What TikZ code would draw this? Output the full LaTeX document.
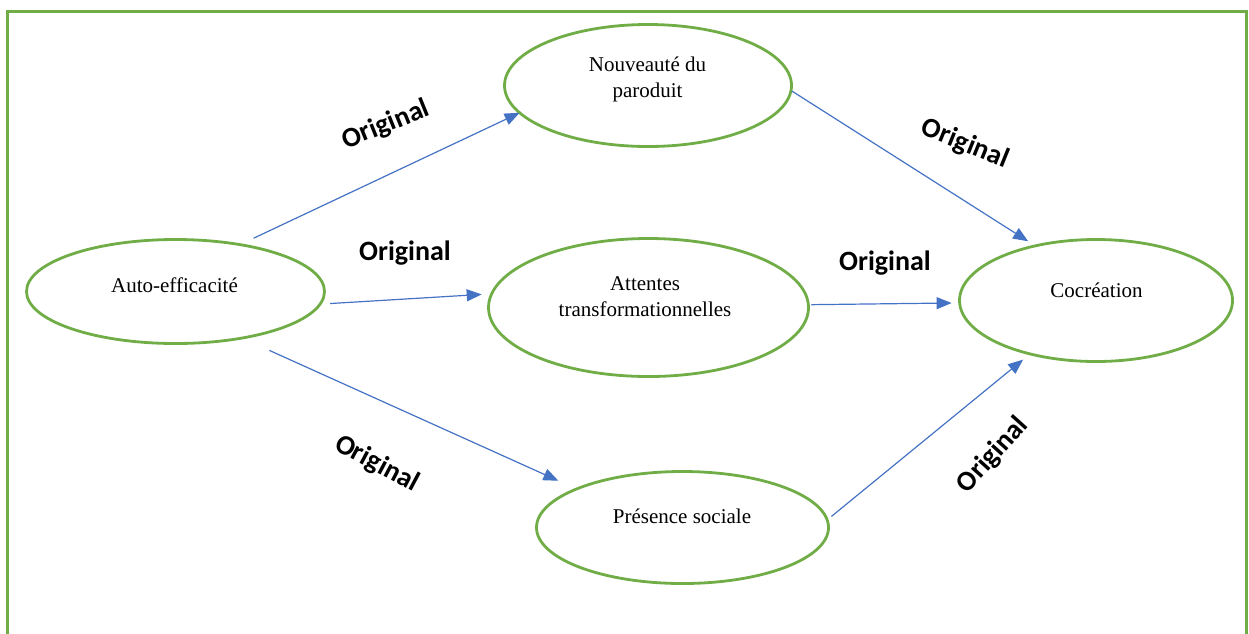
\documentclass[tikz,border=0pt]{standalone}
\usepackage{fontspec}
\setmainfont{Liberation Serif}
\newfontfamily\labelfont{Carlito}
\usetikzlibrary{arrows.meta,shapes.geometric}
\definecolor{framegreen}{RGB}{112,173,71}
\definecolor{linkblue}{RGB}{68,114,196}
\begin{document}
\begin{tikzpicture}[x=1pt,y=-1pt,
  bubble/.style={ellipse,draw=framegreen,line width=2.8pt,inner sep=0pt,outer sep=0pt},
  caption/.style={font=\fontsize{21}{26}\selectfont,align=center,inner sep=0pt},
  link/.style={draw=linkblue,line width=1.2pt,-{Triangle[length=15pt,width=12pt]}},
  weight/.style={font=\labelfont\bfseries\fontsize{28}{30}\selectfont,inner sep=0pt}]
\useasboundingbox (0,0) rectangle (1249,633);
% open frame (its lower edge lies below the page)
\draw[framegreen,line width=2.7pt] (7.3,650) -- (7.3,11.3) -- (1246.5,11.3) -- (1246.5,650);

% concepts
\node[bubble,minimum width=298pt,minimum height=104pt] (auto) at (175.5,291.5) {};
\node[bubble,minimum width=287pt,minimum height=122pt] (nouv) at (648,85.5) {};
\node[bubble,minimum width=320pt,minimum height=138pt] (att) at (648.5,307.5) {};
\node[bubble,minimum width=273pt,minimum height=122pt] (coc) at (1096,300.5) {};
\node[bubble,minimum width=292pt,minimum height=112pt] (pres) at (682.5,527.5) {};

\node[caption] (autotext) at (174.5,285) {Auto-efficacité};
\node[caption] (nouvtext) at (647.5,79) {Nouveauté du\\paroduit};
\node[caption] (atttext) at (645,297) {Attentes\\transformationnelles};
\node[caption] (coctext) at (1096.5,290.5) {Cocréation};
\node[caption] (prestext) at (682,516.5) {Présence sociale};

% relations
\draw[link,shorten <=15pt] (auto.36.6) -- (nouv.192.9);
\draw[link,shorten <=10pt,shorten >=10pt] (auto.-5.4) -- (att.175.1);
\draw[link,shorten <=30pt,shorten >=20pt] (auto.-35.2) -- (pres.160.1);
\draw[link,shorten <=1pt,shorten >=8.5pt] (nouv.-2.9) -- (coc.138.1);
\draw[link,shorten <=3pt,shorten >=8pt] (att.1.1) -- (coc.181.7);
\draw[link,shorten <=5.5pt,shorten >=9pt] (pres.3.9) -- (coc.219);

% relation labels
\node[weight,rotate=22] (w1) at (386,125) {Original};
\node[weight] (w2) at (405,253) {Original};
\node[weight,rotate=-28] (w3) at (377,464) {Original};
\node[weight,rotate=-22] (w4) at (965,144) {Original};
\node[weight] (w5) at (885,263) {Original};
\node[weight,rotate=48] (w6) at (993,455) {Original};
\end{tikzpicture}
\end{document}
